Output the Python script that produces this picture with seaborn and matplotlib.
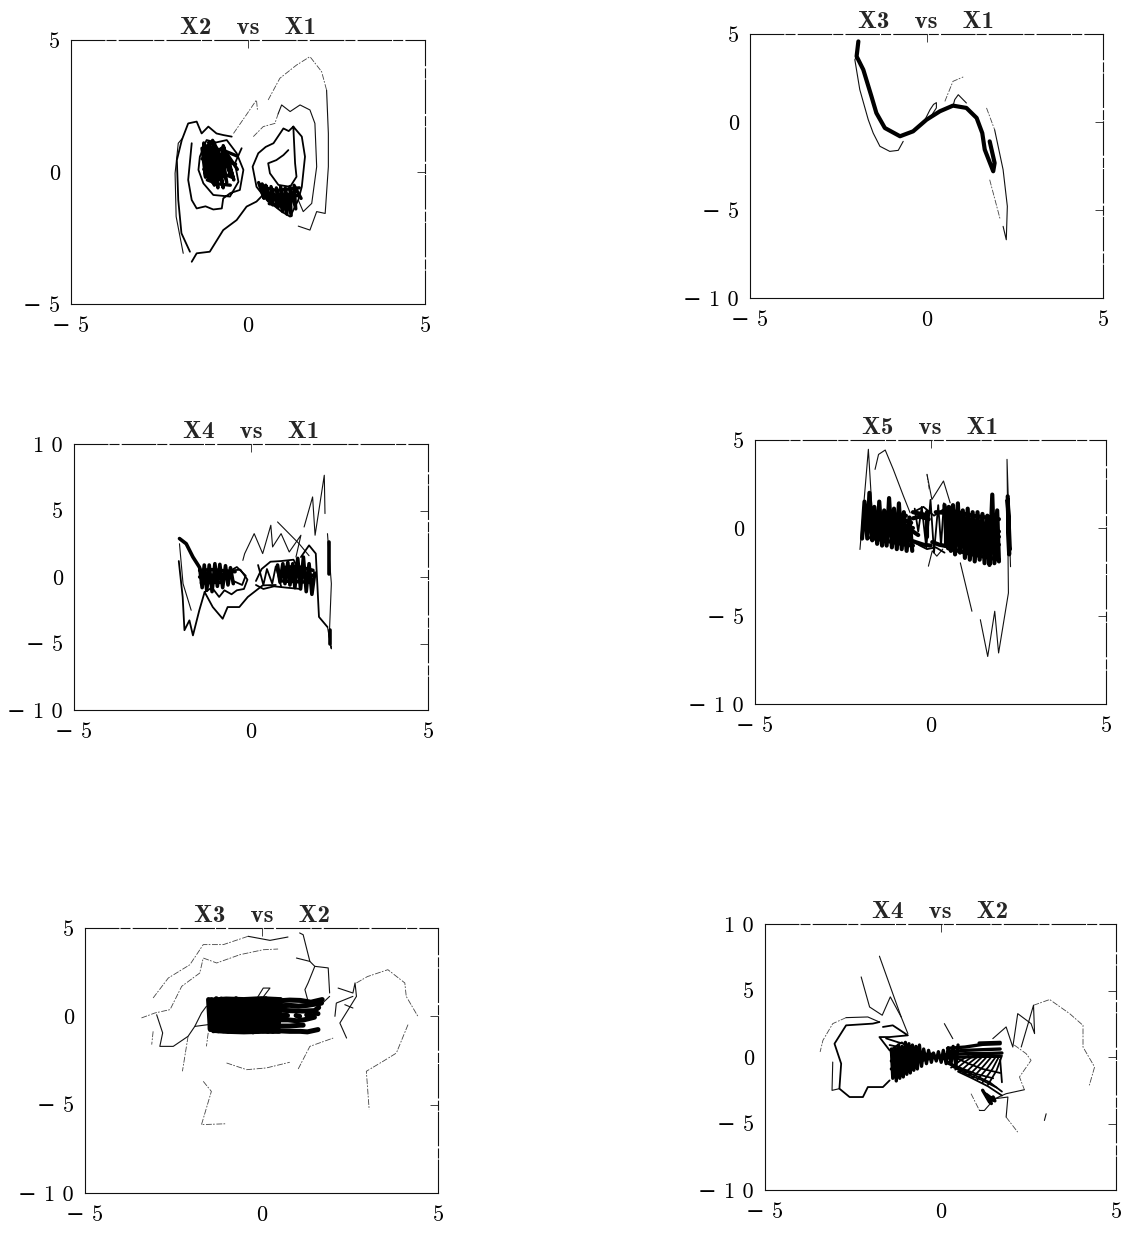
#!/usr/bin/env python3

import matplotlib
matplotlib.use('Agg')
import matplotlib.pyplot as plt
import seaborn as sns

# tick labels
x_ticks = [-5, 0, 5]
x_labels = ['\u2212 5', '0', '5']
y_ticks_a = [-5, 0, 5]
y_labels_a = ['\u2212 5', '0', '5']
y_ticks_b = [-10, -5, 0, 5]
y_labels_b = ['\u2212 1 0', '\u2212 5', '0', '5']
y_ticks_c = [-10, -5, 0, 5, 10]
y_labels_c = ['\u2212 1 0', '\u2212 5', '0', '5', '1 0']

# X2 vs X1
p1_faint_x = [[.57, .9, 1.37, 1.75, 2.08, 2.22], [-.41, -.08, .24, .27], [.15, .43, .76, .85]]
p1_faint_y = [[2.73, 3.55, 4.05, 4.37, 3.8, 3.1], [1.46, 2.1, 2.73, 2.3], [1.34, 1.72, 1.84, 2.2]]
p1_thin_x = [[2.22, 2.27, 2.27, 2.18, 1.94, 1.75, 1.42], [-1.83, -2.03, -2.06, -1.97, -1.85],
             [.85, .95, 1.19, 1.47, 1.75, 1.89, 1.94, 1.8, 1.56, 1.42]]
p1_thin_y = [[3.1, 1.46, .2, -1.57, -1.5, -2.2, -2.05], [-3.08, -1.69, -.05, 1.09, 1.28],
             [2.2, 2.54, 2.29, 2.54, 2.35, 1.84, .2, -1.19, -1.5, -1.06]]
p1_line_x = [[-1.59, -1.45, -1.08, -.7, -.32, -.04, .24, .4],
             [-1.64, -1.88, -1.97, -2.01, -1.87, -1.69, -1.45, -1.31, -1.12, -.89, -.7, -.46],
             [-1.59, -1.69, -1.59, -1.45, -1.2, -.98, -.74, -.7, -.5, -.23, -.13, -.32, -.6, -.9, -1.17, -1.36, -1.4, -1.26, -.98, -.51, -.27, -.37, -.18],
             [1.28, 1.52, 1.61, 1.52, 1.42, 1.19, .95, .53, .24, .13, .29, .5, .72, 1.0, 1.15, 1.28, 1.33, 1.37, 1.19, .86, .62, .57, .8, 1.0, 1.14]]
p1_line_y = [[-3.4, -3.08, -3.02, -2.2, -1.82, -1.31, -1.12, -.9],
             [-3.02, -2.32, -1.06, .45, 1.21, 1.84, 1.91, 1.46, 1.72, 1.46, 1.4, 1.34],
             [1.09, -.3, -1.06, -1.38, -1.3, -1.42, -1.38, -1.0, -.8, -.68, .08, .71, 1.21, 1.12, 1.21, .58, .08, -.43, -.87, -.93, -.37, .33, .9],
             [1.72, 1.34, .58, -.56, -1.06, -1.69, -1.5, -1.06, -.56, .2, .71, .95, 1.09, 1.65, 1.55, 1.72, .33, -.18, -.56, -.49, -.05, .33, .45, .64, .83]]
p1_core_x = [[-1.3, -1.2, -1.25, -1.1, -1.15, -1.0, -1.1, -.95, -1.05, -.85, -1.0, -.8, -.95, -.7, -.9, -.65, -.85, -.6, -.75, -.5, -.7, -.4, -.6, -.3],
             [.3, .45, .4, .58, .5, .7, .65, .85, .8, .98, .92, 1.1, 1.05, 1.22, 1.18, 1.35, 1.3, 1.5],
             [-1.25, -.75, -.3], [-1.3, -.85, -.35], [-1.25, -.9, -.45], [-1.15, -.85, -.5],
             [.35, .8, 1.45], [.45, .8, 1.1, 1.4], [.6, .9, 1.2]]
p1_core_y = [[.9, -.2, 1.1, -.3, 1.0, -.4, 1.15, -.5, .9, -.6, 1.2, -.3, 1.1, -.6, .95, -.2, .8, -.4, .9, -.1, 1.0, -.3, .7, .1],
             [-.4, -1.0, -.45, -1.1, -.5, -1.25, -.55, -1.35, -.6, -1.5, -.55, -1.6, -.6, -1.65, -.55, -1.4, -.5, -1.0],
             [.9, .85, .6], [.5, .45, .3], [.1, .05, -.2], [-.3, -.45, -.5],
             [-.55, -.7, -.6], [-.85, -.95, -.85, -.9], [-1.2, -1.25, -1.3]]

# X3 vs X1
p2_faint_x = [[.52, .75, 1.04], [1.79, 2.09], [1.7, 1.93]]
p2_faint_y = [[1.17, 2.31, 2.56], [-3.28, -5.55], [.8, -.44]]
p2_thin_x = [[1.93, 2.17, 2.29, 2.26, 2.17], [-1.98, -2.03, -1.89, -1.65, -1.51, -1.32, -1.04, -.8, -.66],
             [-.05, .1, .2, .28, .28, .15], [.75, .8, .9, 1.13]]
p2_thin_y = [[-.44, -2.71, -4.79, -6.69, -5.93], [3.73, 3.54, 1.84, .13, -.63, -1.38, -1.67, -1.61, -1.1],
             [.1, .7, 1.0, 1.1, .8, .4], [.9, 1.27, 1.55, 1.08]]
p2_core_x = [[-1.93, -1.98, -1.79, -1.56, -1.42, -1.18, -.75, -.38, 0, .38, .75, 1.13, 1.42, 1.58, 1.65, 1.89, 1.93, 1.79]]
p2_core_y = [[4.58, 3.73, 2.97, 1.46, .51, -.34, -.81, -.53, .13, .61, .93, .8, .23, -.63, -1.57, -2.8, -2.33, -1.1]]

# X4 vs X1
p3_thin_x = [[.75, 1.36, 1.64], [1.5, 1.74, 1.81, 2.07, 2.09], [-.23, -.18, .09, .33, .56, .61, .85, 1.08, 1.41, 1.27],
             [2.16, 2.27, 2.21, 2.27, 2.16], [-2.02, -1.92, -1.69]]
p3_thin_y = [[4.14, 2.5, 1.6], [3.76, 6.02, 3.14, 7.65, 4.77], [1.25, 1.75, 3.26, 1.76, 3.89, 2.26, 3.26, 1.88, 3.14, 1.5],
             [-3.76, -5.4, -4.5, -.5, 3.26], [2.5, -.5, -2.5]]
p3_line_x = [[-2.04, -1.93, -1.88, -1.74, -1.64, -1.46, -1.31, -1.08, -.8, -.66, -.33, -.09, .33, .7],
             [-1.31, -1.1, -.9, -.75, -.55, -.4, -.2, -.1, -.3, -.55, -.75],
             [.14, .3, .55, .85, 1.2, 1.3], [.14, .35, .65, 1.0, 1.4],
             [-.7, -.4, -.15, -.25, -.5], [1.41, 1.64, 1.83, 1.92, 2.16],
             [.2, .35, .45, .6, .7, .85]]
p3_line_y = [[1.2, -1.5, -4.0, -3.26, -4.39, -2.5, -1.13, -2.26, -3.14, -2.26, -2.26, -1.5, -.63, -.6],
             [-1.13, -.8, -1.5, -1.0, -1.3, -1.0, -.9, -.2, .55, .5, -.1],
             [-.3, .6, 1.15, 1.2, 1.3, .8], [-.6, -.9, -.7, -.8, -.9],
             [.3, .75, .1, -.6, -.3], [1.5, 2.38, 1.76, -3.0, -3.76],
             [.9, -.6, .6, -.5, .8, -.7]]
p3_core_x = [[-2.02, -1.83, -1.64, -1.46], [2.21, 2.21], [2.24, 2.24],
             [-1.45, -1.38, -1.32, -1.25, -1.18, -1.1, -1.02, -.95, -.88, -.8, -.72, -.65, -.58, -.5],
             [.75, .82, .9, .96, 1.04, 1.1, 1.18, 1.24, 1.32, 1.4, 1.48, 1.56, 1.64, 1.72, 1.8],
             [-1.45, -1.1, -.7, -.45], [-1.45, -1.1, -.75], [-1.4, -1.1, -.8],
             [.9, 1.3, 1.75], [.85, 1.3, 1.8], [.9, 1.3, 1.75]]
p3_core_y = [[2.89, 2.5, 1.5, .75], [2.63, .25], [-4.0, -5.0],
             [.7, -.8, .9, -1.0, .9, -1.1, 1.0, -.7, .95, -.8, .85, -.6, .7, -.5],
             [.9, -.4, 1.0, -.5, 1.1, -.6, 1.0, -.8, 1.4, -.9, 1.5, -1.1, 1.0, -1.3, .3],
             [.5, .55, .45, .4], [0, .1, .05], [-.45, -.4, -.4],
             [.7, .8, .5], [.2, .25, .1], [-.3, -.35, -.4]]

# X5 vs X1
p4_faint_x = [[-.1, -.04]]
p4_faint_y = [[3.05, 2.2]]
p4_thin_x = [[-1.58, -1.48, -1.29, -1.06, -.77, -.58], [-.1, .04, .37, .56], [.85, 1.18], [1.42, 1.63, 1.83, 1.94, 2.22, 2.18, 2.28],
             [-2.01, -1.77, -1.65], [-.06, .05, .18, .35]]
p4_thin_y = [[3.33, 4.18, 4.43, 3.33, 1.81, .86], [3.05, 1.62, 2.67, 1.43], [-1.98, -4.73], [-5.21, -7.3, -4.73, -7.1, -3.69, 3.9, -2.2],
             [-1.22, 4.47, .5], [-2.17, -1.3, -1.6, -1.2]]
p4_line_x = [[-.45, -.35, -.25, -.12, 0, .1, .22, .3, .38], [-.55, -.3, -.1, .15, .4], [-.5, -.2, .1, .4]]
p4_line_y = [[1.1, -.2, 1.2, -1.1, 1.6, -1.4, 1.3, -1.0, 1.4], [-.7, -1.0, -1.2, -1.1, -1.4], [.9, 1.2, .7, 1.1]]
p4_core_x = [[-1.95, -1.88, -1.8, -1.74, -1.66, -1.6, -1.52, -1.46, -1.38, -1.32, -1.25, -1.18, -1.1, -1.04, -.96, -.9, -.82, -.76, -.68, -.6, -.52],
             [.4, .46, .52, .58, .64, .7, .78, .84, .92, .98, 1.06, 1.12, 1.2, 1.26, 1.34, 1.4, 1.48, 1.54, 1.62, 1.68, 1.76, 1.82, 1.9, 1.95],
             [2.2, 2.24, 2.2, 2.26],
             [-1.7, -1.2, -.75, -.5], [-1.7, -1.2, -.7, -.5], [-1.65, -1.2, -.75, -.55], [-1.5, -1.1, -.7],
             [.55, 1.2, 1.95], [.5, 1.2, 1.6, 1.95], [.5, 1.2, 1.95], [.5, 1.2, 1.95], [.5, 1.2, 1.7], [.5, 1.2, 1.95],
             [-.5, -.3, -.05], [-.5, -.35], [-.5, -.2, 0], [.05, .25, .5], [.15, .5], [-.1, -.1], [.45, .45], [-.5, -.15]]
p4_core_y = [[-.6, 1.5, -.6, 2.0, -.7, 1.2, -.9, 1.5, -1.0, 1.0, -1.0, 1.7, -1.1, 1.1, -1.2, 1.4, -1.2, .9, -1.3, .6, -1.3],
             [1.3, -1.0, 1.2, -1.3, 1.3, -1.5, 1.4, -1.4, 1.0, -1.7, 1.1, -1.8, .9, -1.9, .9, -1.8, .8, -2.0, .7, -2.1, 1.9, -2.0, 1.0, -1.9],
             [1.8, -1.5, 1.6, -1.2],
             [-.1, -.2, -.1, 0], [-.55, -.75, -.95, -1.0], [.35, .4, .45, .3], [.8, .75, .7],
             [1.0, .7, .5], [.55, .2, .1, -.2], [.1, -.2, -.5], [-.35, -.6, -.95], [-.8, -1.1, -1.5], [-1.15, -1.5, -1.8],
             [.55, .65, .5], [-.2, -.4], [-.75, -.95, -1.0], [-.8, -.95, -1.05], [.9, .85], [.9, -.5], [1.0, -1.0], [.9, .75]]

# X3 vs X2
p5_faint_x = [[-3.4, -3.02, -2.59, -2.26, -1.75, -1.65, -1.27, -.61, .05, .47],
              [-3.07, -2.64, -2.03, -1.65, -1.08, -.38],
              [2.69, 3.0, 3.58, 4.06, 4.1, 4.43], [4.15, 3.82, 3.44, 2.97, 3.05],
              [-.99, -.42, .14, .8], [1.04, 1.37, 2.03], [-1.51, -1.56], [-1.65, -1.42, -1.7, -.99], [-2.08, -2.24], [-3.07, -3.11]]
p5_faint_y = [[-.09, .19, .38, 1.7, 2.45, 3.3, 3.02, 3.49, 3.77, 3.81],
              [1.04, 2.17, 2.92, 4.06, 4.06, 4.53],
              [1.89, 2.25, 2.64, 1.89, 1.13, 0], [-.47, -2.08, -2.55, -3.11, -5.28],
              [-2.64, -3.02, -2.92, -2.6], [-2.98, -1.7, -1.23], [-.94, -1.7], [-3.68, -4.25, -6.13, -6.08], [-1.13, -3.11], [-.85, -1.6]]
p5_thin_x = [[-.38, .24, .75], [1.08, 1.18, 1.37, 1.51, 1.89, 1.93], [.99, 1.37], [1.51, 1.32, 1.23, 1.32], [2.17, 2.59, 2.65, 2.69, 2.22, 2.41],
             [2.08, 2.12, 2.59], [2.36, 2.59], [-2.97, -2.8, -2.88, -2.5, -2.08, -1.89, -1.51], [-1.89, -1.7, -1.56], [-.15, .05, .24, .05], [1.93, 1.6]]
p5_thin_y = [[4.53, 4.3, 4.49], [4.72, 4.62, 3.11, 2.83, 2.74, 1.32], [3.3, 3.11], [2.83, 1.89, 1.51, .85], [1.6, 1.32, 1.89, 1.13, -.38, -1.23],
             [0, .75, 1.13], [.66, .47], [.09, -.94, -1.7, -1.7, -1.13, -.57, -.47], [-.57, .19, .57], [.95, 1.6, 1.6, 1.1], [1.13, .5]]
p5_core_x = [[-1.5, -1.45, -1.42, -1.36, -1.28, -1.22, -1.14, -1.08, -1.0, -.94, -.86, -.8, -.72, -.66, -.58, -.52, -.44, -.38, -.3, -.24, -.16, -.1, -.02, .04, .12, .18, .26, .32, .4, .46, .54],
             [-1.4, -1, -.5, 0, .5], [-1.35, -1, -.5, 0, .5],
             [.5, .8, 1.1, 1.4, 1.72], [.5, .8, 1.05, 1.3, 1.7], [.5, .8, 1.15, 1.5, 1.62], [.5, .72], [.98, 1.08], [1.28, 1.42],
             [.5, .8, 1.1, 1.3, 1.6], [.5, .8, 1.1, 1.18], [.5, .75, 1.0, 1.2, 1.5],
             [1.5, 1.6]]
p5_core_y = [[.95, -.75, .95, -.82, 1.0, -.82, .98, -.82, .96, -.85, .95, -.82, 1.0, -.85, .95, -.82, .96, -.8, .95, -.88, .96, -.85, .95, -.82, 1.0, -.85, .95, -.85, .96, -.82, .95],
             [.92, .98, .95, 1.0, .95], [-.8, -.85, -.88, -.85, -.85],
             [.88, .92, .9, .8, .95], [.6, .62, .58, .62, .75], [.35, .32, .3, .32, .5], [.05, .05], [.05, .0], [.08, .05],
             [-.82, -.85, -.85, -.88, -.75], [-.55, -.55, -.5, -.5], [-.2, -.2, -.25, -.2, -.05],
             [.2, .15]]

# X4 vs X2
p6_faint_x = [[-2.69, -3.07, -3.35, -3.43], [2.65, 3.11, 3.68, 4.06, 4.06, 4.39, 4.24],
              [2.1, 2.44, 2.58, 2.25, 2.39], [1.87, 2.2], [.87, 1.11]]
p6_faint_y = [[2.96, 2.51, 1.25, .38], [3.89, 4.32, 3.26, 2.38, .75, -.75, -2.13],
              [.9, .25, -.25, -1.5, -2.46], [-4.52, -5.65], [-2.76, -4.02]]
p6_thin_x = [[-2.26, -2.02, -1.66, -1.43, -1.12], [-1.74, -1.36, -1.12, -.93], [.11, .35], [1.49, 1.87, 2.06, 2.2, 2.58, 2.68, 2.65, 2.3],
             [2.39, 1.87, 1.54, 1.92, 1.87], [1.54, 1.25, 1.11], [2.96, 3.01], [-3.07, -3.09, -2.88],
             [-1.74, -2.07, -2.69]]
p6_thin_y = [[6.02, 3.76, 3.14, 4.52, 3.01], [7.58, 4.77, 3.01, 1.76], [2.51, 1.38], [1.38, 2.26, .75, 3.26, 2.51, 1.76, 3.89, .75],
             [-2.46, -2.76, -3.14, -3.01, -4.52], [-3.14, -4.02, -4.02], [-4.77, -4.27], [-.38, -2.51, -2.38],
             [2.63, 3.01, 2.96]]
p6_line_x = [[-1.74, -1.93, -2.69, -3.02, -2.83, -2.88, -2.59, -2.21, -2.07, -1.64, -1.45],
             [-1.64, -1.36, -.93, -1.45, -1.74, -1.45, -1.1, -.8], [-1.55, -1.2, -.9, -.7], [-1.45, -1.1, -.8],
             [.3, .8, 1.2, 1.7], [.2, .6, 1.0, 1.4, 1.75], [.5, .9, 1.35, 1.75], [.05, .45, .85],
             [.3, .55, .8], [.55, .85, 1.1], [.8, 1.1, 1.35], [1.05, 1.35, 1.6], [1.35, 1.6, 1.75], [1.7, 1.75],
             [.15, .6, 1.05, 1.5], [.35, .75, 1.15, 1.6],
             [.42, .7, .95], [.68, .98, 1.22], [.92, 1.22, 1.48], [1.2, 1.48, 1.68]]
p6_line_y = [[2.63, 2.51, 2.38, 1.0, -.5, -2.38, -3.01, -3.01, -2.26, -2.26, -1.76],
             [2.26, 2.38, 1.63, 1.5, 1.5, .5, 1.1, .4], [1.4, 1.1, .9, .4], [.9, .7, .4],
             [.1, -.5, -.9, -1.2], [-.5, -1.0, -1.4, -1.9, -2.6], [-1.1, -1.6, -2.2, -2.9], [-.1, -.7, -1.2],
             [-.8, -.3, .1], [-1.1, -.4, .1], [-1.4, -.6, .1], [-1.7, -.8, .1], [-2.1, -1.0, .1], [-.2, -1.9],
             [-.35, -.85, -1.3, -1.6], [-.75, -1.3, -1.7, -2.3],
             [-.95, -.35, .1], [-1.25, -.5, .1], [-1.55, -.7, .1], [-1.9, -.9, .1]]
p6_core_x = [[-1.4, -1.36, -1.3, -1.26, -1.2, -1.16, -1.1, -1.06, -1.0, -.96, -.9, -.86, -.8, -.76, -.7, -.66, -.6, -.54, -.48, -.4, -.34, -.26, -.2, -.12, -.06, .02, .08, .16, .22, .3, .36, .44, .5],
             [1.2, 1.4, 1.5, 1.55, 1.3, 1.45],
             [-1.4, -1.0, -.6, -.3], [-1.4, -1.0, -.6, -.2], [-1.4, -1, -.6, -.2],
             [.2, .7, 1.2, 1.7], [.2, .7, 1.2, 1.7], [.1, .7, 1.2, 1.75], [.1, .7, 1.2, 1.7], [1.1, 1.7]]
p6_core_y = [[.6, -1.6, .7, -1.8, .9, -1.6, .8, -1.5, 1.1, -1.3, 1.0, -1.2, .9, -1.0, .8, -.9, .9, -.7, .6, -.5, .5, -.4, .3, -.3, .4, -.4, .5, -.5, .7, -.5, .8, -.7, .9],
             [-2.5, -3.4, -3.0, -3.3, -2.8, -3.5],
             [-.9, -.6, -.3, -.1], [-.3, -.15, 0, .05], [.4, .3, .2, .2],
             [.65, .75, .95, 1.0], [.4, .5, .55, .6], [.15, .25, .25, .3], [-.05, 0, .05, .05], [1.05, 1.1]]

FIG_W, FIG_H = 1129, 1237
faint_dash = (0, (7, 1.5, 2, 2))
frame_dash = (0, (30, 2, 8, 3))

titles = ['X2   vs   X1', 'X3   vs   X1', 'X4   vs   X1', 'X5   vs   X1', 'X3   vs   X2', 'X4   vs   X2']
# left, right, top, bottom in pixels
boxes = [(71, 425, 40, 304), (750, 1103, 34, 298), (74, 428, 444, 710),
         (755, 1106, 440, 704), (85, 438, 928, 1193), (765, 1116, 924, 1190)]
y_limits = [(-5, 5), (-10, 5), (-10, 10), (-10, 5), (-10, 5), (-10, 10)]
y_tick_sets = [(y_ticks_a, y_labels_a), (y_ticks_b, y_labels_b), (y_ticks_c, y_labels_c),
               (y_ticks_b, y_labels_b), (y_ticks_b, y_labels_b), (y_ticks_c, y_labels_c)]
faint_layers = [(p1_faint_x, p1_faint_y), (p2_faint_x, p2_faint_y), ([], []),
                (p4_faint_x, p4_faint_y), (p5_faint_x, p5_faint_y), (p6_faint_x, p6_faint_y)]
thin_layers = [(p1_thin_x, p1_thin_y), (p2_thin_x, p2_thin_y), (p3_thin_x, p3_thin_y),
               (p4_thin_x, p4_thin_y), (p5_thin_x, p5_thin_y), (p6_thin_x, p6_thin_y)]
line_layers = [(p1_line_x, p1_line_y), ([], []), (p3_line_x, p3_line_y),
               (p4_line_x, p4_line_y), ([], []), (p6_line_x, p6_line_y)]
core_layers = [(p1_core_x, p1_core_y, 2.4), (p2_core_x, p2_core_y, 3.0), (p3_core_x, p3_core_y, 2.6),
               (p4_core_x, p4_core_y, 3.0), (p5_core_x, p5_core_y, 3.6), (p6_core_x, p6_core_y, 2.4)]

sns.set_style('white')
plt.rcParams['font.family'] = ['cmr10', 'DejaVu Serif']
plt.rcParams['axes.formatter.use_mathtext'] = True

fig = plt.figure(figsize=(FIG_W / 100, FIG_H / 100), dpi=100)


def draw(ax, xs, ys, lw, color='black', ls='-'):
    for seg_x, seg_y in zip(xs, ys):
        sns.lineplot(x=seg_x, y=seg_y, ax=ax, sort=False, estimator=None, color=color,
                     linewidth=lw, linestyle=ls, legend=False)


for i in range(6):
    left, right, top, bottom = boxes[i]
    ax = fig.add_axes([left / FIG_W, 1 - bottom / FIG_H, (right - left) / FIG_W, (bottom - top) / FIG_H])

    draw(ax, faint_layers[i][0], faint_layers[i][1], 0.6, color='#444444', ls=faint_dash)
    draw(ax, thin_layers[i][0], thin_layers[i][1], 0.8, color='#111111')
    draw(ax, line_layers[i][0], line_layers[i][1], 1.3)
    draw(ax, core_layers[i][0], core_layers[i][1], core_layers[i][2])

    ax.set_xlim(-5, 5)
    ax.set_ylim(*y_limits[i])
    ax.set_xticks(x_ticks, x_labels)
    ax.set_yticks(y_tick_sets[i][0], y_tick_sets[i][1])
    ax.tick_params(axis='both', direction='in', length=6, width=0.6, top=True, right=True,
                   labelsize=16, color='#222222', labelcolor='black')
    ax.tick_params(axis='x', pad=9)
    ax.tick_params(axis='y', pad=8)
    ax.set_xlabel('')
    ax.set_ylabel('')
    ax.set_title(titles[i], fontsize=18, pad=4, family=['cmb10', 'DejaVu Serif'])
    for side, spine in ax.spines.items():
        spine.set_linewidth(0.8)
        spine.set_color('#111111')
        if side in ('top', 'right'):
            spine.set_linestyle(frame_dash)

fig.savefig('out.png', dpi=100)
